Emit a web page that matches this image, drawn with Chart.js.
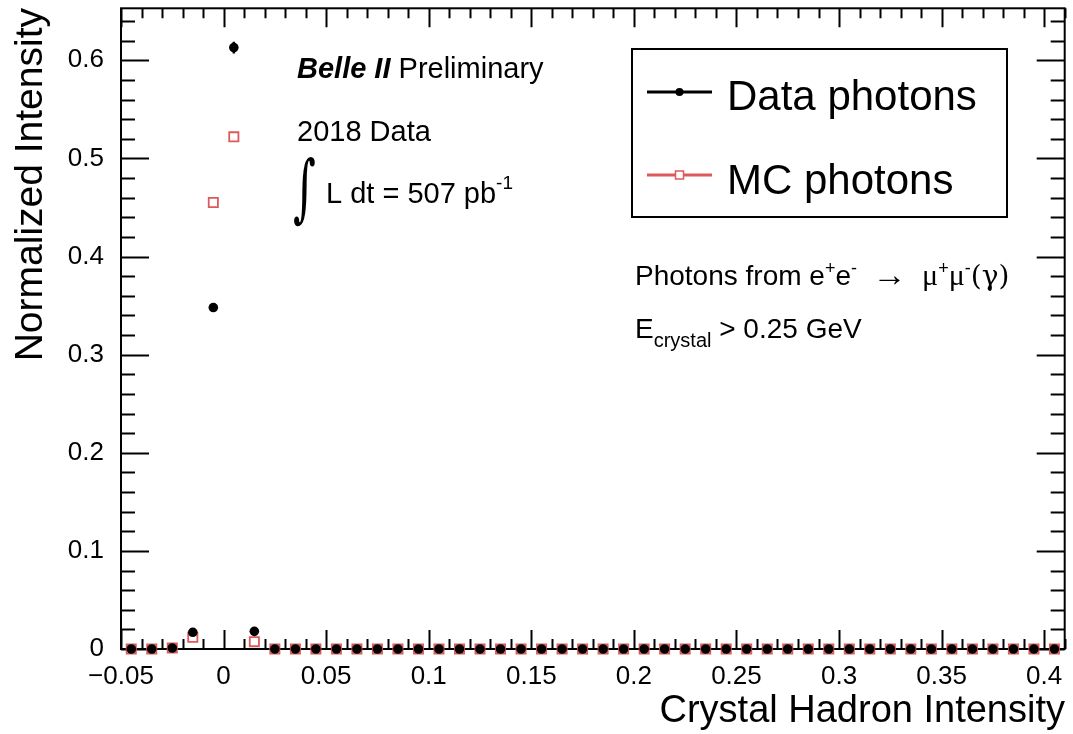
<!DOCTYPE html>
<html>
<head>
<meta charset="utf-8">
<script src="https://cdn.jsdelivr.net/npm/chart.js@4.4.1/dist/chart.umd.min.js"></script>
<style>
  html, body { margin: 0; padding: 0; background: #fff; }
</style>
</head>
<body>
<canvas id="chart" width="1073" height="734"></canvas>
<script>
// bin centres (bin width 0.01)
const binCenters = [
  -0.045, -0.035, -0.025, -0.015, -0.005, 0.005, 0.015, 0.025, 0.035, 0.045,
  0.055, 0.065, 0.075, 0.085, 0.095, 0.105, 0.115, 0.125, 0.135, 0.145,
  0.155, 0.165, 0.175, 0.185, 0.195, 0.205, 0.215, 0.225, 0.235, 0.245,
  0.255, 0.265, 0.275, 0.285, 0.295, 0.305, 0.315, 0.325, 0.335, 0.345,
  0.355, 0.365, 0.375, 0.385, 0.395, 0.405
];

const dataPhotons = [
  0, 0, 0.001, 0.017, 0.348, 0.613, 0.018, 0, 0, 0,
  0, 0, 0, 0, 0, 0, 0, 0, 0, 0,
  0, 0, 0, 0, 0, 0, 0, 0, 0, 0,
  0, 0, 0, 0, 0, 0, 0, 0, 0, 0,
  0, 0, 0, 0, 0, 0
];

const dataErrors = [
  0, 0, 0.0005, 0.001, 0.003, 0.006, 0.001, 0, 0, 0,
  0, 0, 0, 0, 0, 0, 0, 0, 0, 0,
  0, 0, 0, 0, 0, 0, 0, 0, 0, 0,
  0, 0, 0, 0, 0, 0, 0, 0, 0, 0,
  0, 0, 0, 0, 0, 0
];

const mcPhotons = [
  0, 0, 0.001, 0.012, 0.455, 0.522, 0.0075, 0, 0, 0,
  0, 0, 0, 0, 0, 0, 0, 0, 0, 0,
  0, 0, 0, 0, 0, 0, 0, 0, 0, 0,
  0, 0, 0, 0, 0, 0, 0, 0, 0, 0,
  0, 0, 0, 0, 0, 0
];

const xTickValues = [-0.05, 0, 0.05, 0.1, 0.15, 0.2, 0.25, 0.3, 0.35, 0.4];
const xTickLabels = ["\u22120.05", "0", "0.05", "0.1", "0.15", "0.2", "0.25", "0.3", "0.35", "0.4"];
const yTickValues = [0, 0.1, 0.2, 0.3, 0.4, 0.5, 0.6];
const yTickLabels = ["0", "0.1", "0.2", "0.3", "0.4", "0.5", "0.6"];

const FONT = "'Liberation Sans', Arial, Helvetica, sans-serif";
const SERIF = "'Liberation Serif', 'DejaVu Serif', serif";
const RED = "#dc5a5a";

// draws a row of text pieces, each with its own font and vertical shift
function drawParts(ctx, x, y, parts) {
  parts.forEach(p => {
    ctx.font = p.font;
    ctx.fillText(p.t, x, y + (p.dy || 0));
    x += ctx.measureText(p.t).width;
  });
}

// frame with ROOT-style inward ticks on all four sides
const framePlugin = {
  id: "frame",
  beforeDatasetsDraw(chart) {
    const { ctx, chartArea: a, scales: { x, y } } = chart;
    ctx.save();
    ctx.strokeStyle = "#000";
    ctx.lineWidth = 2;
    ctx.beginPath();
    for (let i = 0; i <= 46; i++) {
      const px = Math.round(x.getPixelForValue(-0.05 + i * 0.01)) + 0.5;
      const len = i % 5 === 0 ? 19 : 10;
      ctx.moveTo(px, a.bottom);
      ctx.lineTo(px, a.bottom - len);
      ctx.moveTo(px, a.top);
      ctx.lineTo(px, a.top + len);
    }
    for (let i = 0; i <= 32; i++) {
      const py = Math.round(y.getPixelForValue(i * 0.02)) + 0.5;
      const len = i % 5 === 0 ? 28 : 14;
      ctx.moveTo(a.left, py);
      ctx.lineTo(a.left + len, py);
      ctx.moveTo(a.right, py);
      ctx.lineTo(a.right - len, py);
    }
    ctx.stroke();
    ctx.strokeRect(a.left, a.top, a.right - a.left, a.bottom - a.top);
    ctx.restore();
  },
  afterDatasetsDraw(chart) {
    // error bars for data
    const { ctx, scales: { x, y } } = chart;
    ctx.save();
    ctx.strokeStyle = "#000";
    ctx.lineWidth = 2.5;
    ctx.beginPath();
    binCenters.forEach((c, i) => {
      if (!dataErrors[i]) return;
      const px = x.getPixelForValue(c);
      ctx.moveTo(px, y.getPixelForValue(dataPhotons[i] - dataErrors[i]));
      ctx.lineTo(px, y.getPixelForValue(dataPhotons[i] + dataErrors[i]));
    });
    ctx.stroke();
    ctx.restore();
  }
};

// labels, legend and annotations
const textPlugin = {
  id: "texts",
  afterDraw(chart) {
    const { ctx } = chart;
    const ds = chart.data.datasets;
    ctx.save();
    ctx.fillStyle = "#000";
    ctx.textBaseline = "alphabetic";

    // axis titles
    ctx.font = "38px " + FONT;
    ctx.textAlign = "right";
    ctx.fillText("Crystal Hadron Intensity", 1065, 722);
    ctx.save();
    ctx.translate(42, 8);
    ctx.rotate(-Math.PI / 2);
    ctx.font = "39px " + FONT;
    ctx.fillText("Normalized Intensity", 0, 0);
    ctx.restore();
    ctx.textAlign = "left";

    // Belle II label
    drawParts(ctx, 297, 78, [
      { t: "Belle II", font: "italic bold 29px " + FONT },
      { t: " Preliminary", font: "29px " + FONT }
    ]);
    drawParts(ctx, 297, 141, [{ t: "2018 Data", font: "29px " + FONT }]);
    ctx.save();
    ctx.translate(293, 213);
    ctx.scale(1.15, 1.95);
    ctx.font = "38px 'DejaVu Serif', serif";
    ctx.fillText("\u222B", 0, 0);
    ctx.restore();
    drawParts(ctx, 326, 203, [
      { t: "L dt = 507 pb", font: "29px " + FONT },
      { t: "-1", font: "19px " + FONT, dy: -14 }
    ]);

    // legend
    ctx.strokeStyle = "#000";
    ctx.lineWidth = 2;
    ctx.strokeRect(632, 49, 375, 168);
    ctx.lineWidth = 3;
    ctx.beginPath();
    ctx.moveTo(647, 92);
    ctx.lineTo(712, 92);
    ctx.stroke();
    ctx.beginPath();
    ctx.arc(679.5, 92, 4, 0, Math.PI * 2);
    ctx.fill();
    ctx.strokeStyle = RED;
    ctx.beginPath();
    ctx.moveTo(647, 175);
    ctx.lineTo(675, 175);
    ctx.moveTo(684, 175);
    ctx.lineTo(712, 175);
    ctx.stroke();
    ctx.lineWidth = 1.5;
    ctx.strokeRect(675.5, 171, 8, 8);
    ctx.font = "42px " + FONT;
    ctx.fillText(ds[0].label, 727, 110);
    ctx.fillText(ds[1].label, 727, 194);

    // process text
    drawParts(ctx, 635, 285, [
      { t: "Photons from e", font: "28px " + FONT },
      { t: "+", font: "18px " + FONT, dy: -11 },
      { t: "e", font: "28px " + FONT },
      { t: "-", font: "18px " + FONT, dy: -11 },
      { t: "  ", font: "28px " + FONT },
      { t: "\u2192", font: "34px " + SERIF, dy: 1 },
      { t: "  ", font: "28px " + FONT },
      { t: "\u03BC", font: "30px " + SERIF },
      { t: "+", font: "18px " + FONT, dy: -11 },
      { t: "\u03BC", font: "30px " + SERIF },
      { t: "-", font: "18px " + FONT, dy: -11 },
      { t: "(\u03B3)", font: "28px 'DejaVu Serif', serif" }
    ]);
    drawParts(ctx, 635, 338, [
      { t: "E", font: "28px " + FONT },
      { t: "crystal", font: "20px " + FONT, dy: 9 },
      { t: " > 0.25 GeV", font: "28px " + FONT }
    ]);
    ctx.restore();
  }
};

new Chart(document.getElementById("chart"), {
  type: "scatter",
  data: {
    datasets: [
      {
        label: "Data photons",
        data: binCenters.map((c, i) => ({ x: c, y: dataPhotons[i] })),
        pointStyle: "circle",
        pointRadius: 4.8,
        backgroundColor: "#000",
        borderColor: "#000",
        borderWidth: 0,
        clip: false
      },
      {
        label: "MC photons",
        data: binCenters.map((c, i) => ({ x: c, y: mcPhotons[i] })),
        pointStyle: "rect",
        pointRadius: 6.5,
        backgroundColor: "rgba(255,255,255,0)",
        borderColor: RED,
        borderWidth: 1.8,
        clip: false
      }
    ]
  },
  options: {
    responsive: false,
    animation: false,
    layout: { padding: { left: 0, top: 6, right: 5, bottom: 0 } },
    plugins: {
      legend: { display: false },
      tooltip: { enabled: false }
    },
    scales: {
      x: {
        type: "linear",
        min: -0.05,
        max: 0.41,
        grid: { display: false },
        border: { display: false },
        afterBuildTicks: s => { s.ticks = xTickValues.map(v => ({ value: v })); },
        ticks: {
          callback: (v, i) => xTickLabels[i],
          font: { family: FONT, size: 26 },
          color: "#000",
          padding: 4,
          maxRotation: 0,
          autoSkip: false
        },
        afterFit: s => {
          s.height = 85;
          s.paddingLeft = 0;
          s.paddingRight = 0;
        }
      },
      y: {
        type: "linear",
        min: 0,
        max: 0.653,
        grid: { display: false },
        border: { display: false },
        afterBuildTicks: s => { s.ticks = yTickValues.map(v => ({ value: v })); },
        ticks: {
          callback: (v, i) => yTickLabels[i],
          font: { family: FONT, size: 26 },
          color: "#000",
          padding: 9,
          autoSkip: false
        },
        afterFit: s => {
          s.width = 121;
          s.paddingTop = 0;
          s.paddingBottom = 0;
        }
      }
    }
  },
  plugins: [framePlugin, textPlugin]
});
</script>
</body>
</html>
